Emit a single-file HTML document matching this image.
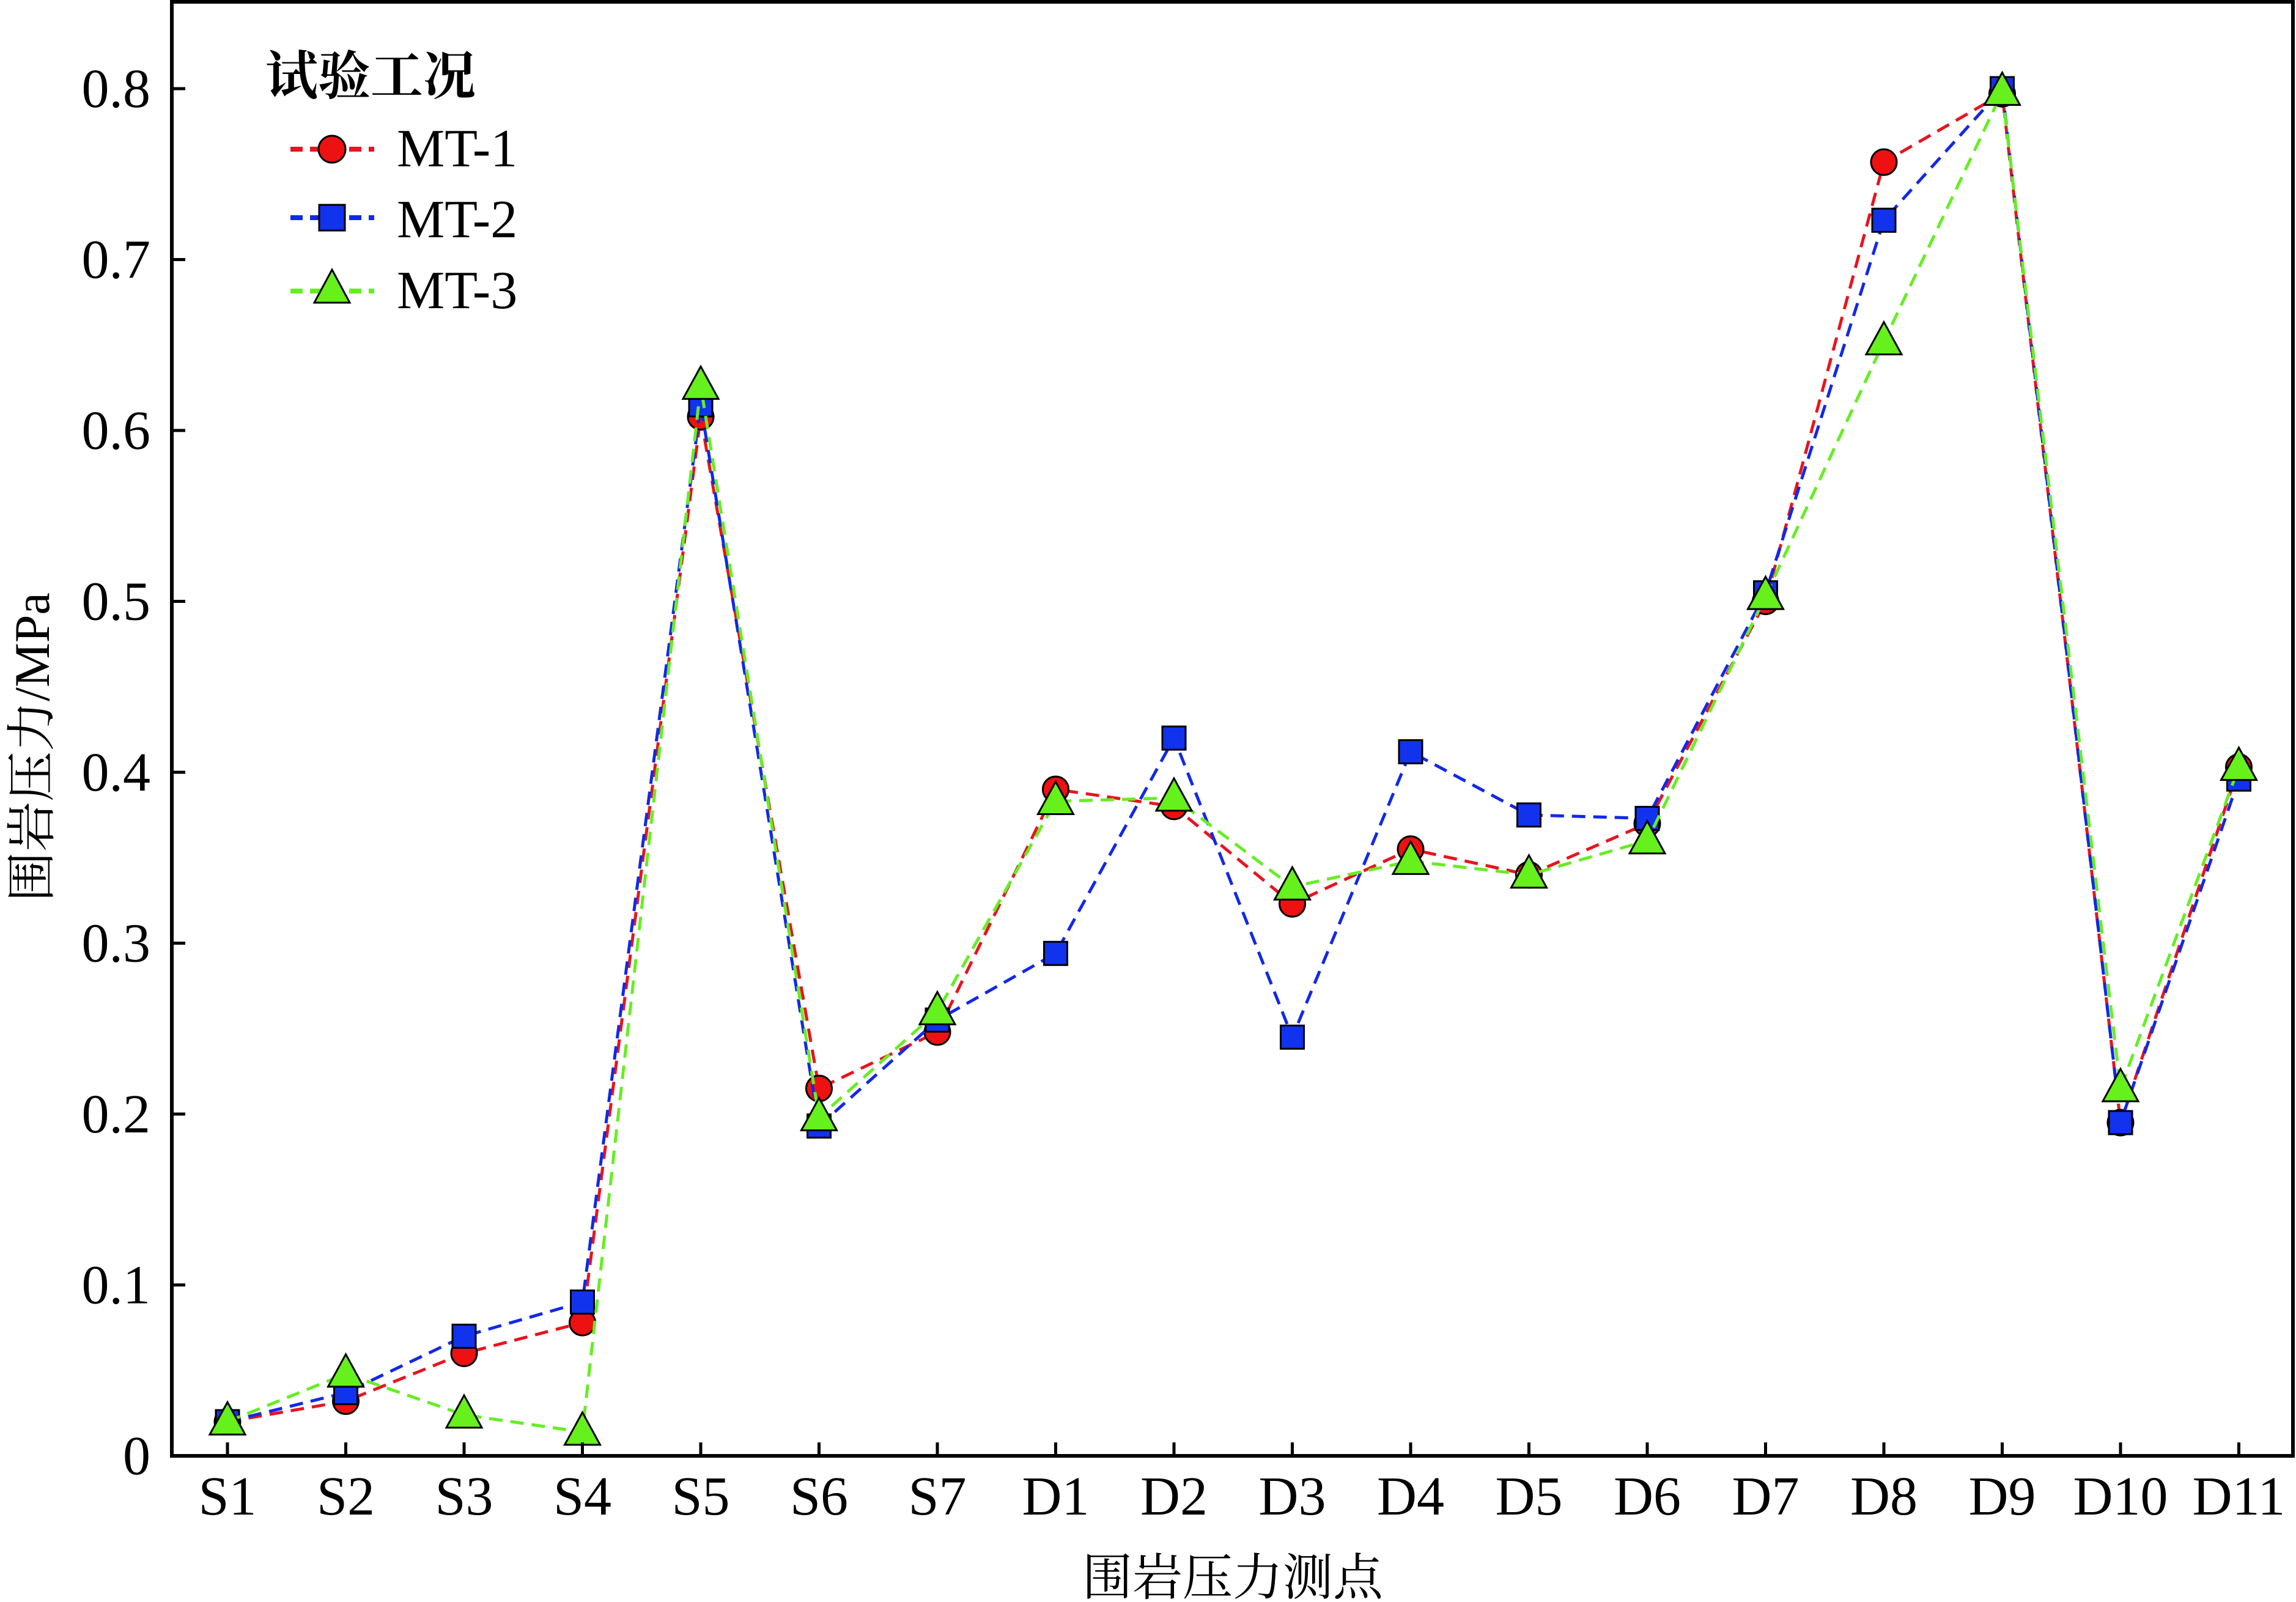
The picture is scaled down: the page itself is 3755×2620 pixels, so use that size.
<!DOCTYPE html>
<html><head><meta charset="utf-8"><style>
html,body{margin:0;padding:0;background:#fff;}
svg{display:block;font-family:"Liberation Serif","Noto Serif CJK SC",serif;}
</style></head><body>
<svg id="chart" width="3755" height="2620" viewBox="0 0 3755 2620" xmlns="http://www.w3.org/2000/svg">
<g id="series-layer"></g>
<g id="axes-layer"></g>
<text x="2016" y="2608" font-size="82" text-anchor="middle" font-family="'Liberation Serif','Noto Serif CJK SC',serif">围岩压力测点</text>
<text x="0" y="0" font-size="82" text-anchor="middle" transform="translate(80,1222) rotate(-90)">围岩压力/MPa</text>
<g>
<text x="434" y="154" font-size="86" font-weight="bold">试验工况</text>
<g>
<line x1="475" y1="244" x2="612" y2="244" stroke="#e8141e" stroke-width="8" stroke-dasharray="20,12"/>
<circle cx="543" cy="244" r="22" fill="#ee1111" stroke="#000" stroke-width="3"/>
<text x="649" y="272" font-size="88">MT-1</text></g>
<g>
<line x1="475" y1="356" x2="612" y2="356" stroke="#1228e8" stroke-width="8" stroke-dasharray="20,12"/>
<rect x="522" y="335" width="42" height="42" fill="#1133ee" stroke="#000" stroke-width="3"/>
<text x="649" y="388" font-size="88">MT-2</text></g>
<g>
<line x1="475" y1="476" x2="612" y2="476" stroke="#66ee22" stroke-width="8" stroke-dasharray="20,12"/>
<polygon points="543,441 572,495 514,495" fill="#66f01c" stroke="#000" stroke-width="3"/>
<text x="649" y="504" font-size="88">MT-3</text></g>
</g>
</svg>
<script>
const categories = ["S1","S2","S3","S4","S5","S6","S7","D1","D2","D3","D4","D5","D6","D7","D8","D9","D10","D11"];
const mt1 = [0.020,0.032,0.060,0.078,0.608,0.215,0.248,0.390,0.380,0.323,0.355,0.340,0.370,0.500,0.757,0.797,0.195,0.403];
const mt2 = [0.020,0.037,0.070,0.090,0.615,0.193,0.255,0.294,0.420,0.245,0.412,0.375,0.373,0.505,0.723,0.800,0.195,0.396];
const mt3 = [0.020,0.048,0.024,0.014,0.626,0.198,0.260,0.383,0.385,0.333,0.348,0.340,0.360,0.503,0.652,0.798,0.215,0.403];
const yTicks = [0,0.1,0.2,0.3,0.4,0.5,0.6,0.7,0.8];
const yTickLabels = ["0","0.1","0.2","0.3","0.4","0.5","0.6","0.7","0.8"];

const NS = "http://www.w3.org/2000/svg";
const L = 281, R = 3750, T = 3, B = 2381;
const x0 = 372, dx = 193.5;
const yScale = v => B - v * 2795;
const xScale = i => x0 + i * dx;
function mk(tag, attrs, parent){const e=document.createElementNS(NS,tag);for(const k in attrs)e.setAttribute(k,attrs[k]);parent.appendChild(e);return e;}

const axes = document.getElementById('axes-layer');
const frame = mk('rect',{x:L,y:T,width:R-L,height:B-T,fill:'none',stroke:'#000','stroke-width':6},axes);


yTicks.forEach((v,i)=>{
  const y=yScale(v);
  const t=mk('line',{x1:L,y1:y,x2:L+22,y2:y,stroke:'#000','stroke-width':5},axes);
  
  
  const lb=mk('text',{x:246,y:y+30,'font-size':90,'text-anchor':'end'},axes);
  lb.textContent=yTickLabels[i];
  
  
});
categories.forEach((c,i)=>{
  const x=xScale(i);
  const t=mk('line',{x1:x,y1:B,x2:x,y2:B-22,stroke:'#000','stroke-width':5},axes);
  
  
  const lb=mk('text',{x:x,y:2477,'font-size':90,'text-anchor':'middle'},axes);
  lb.textContent=c;
  
  
});

const layer = document.getElementById('series-layer');
function drawSeries(vals, color, fill, shape, name){
  const g = mk('g',{},layer);
  
  
  const pts = vals.map((v,i)=>xScale(i)+','+yScale(v)).join(' ');
  const pl = mk('polyline',{points:pts,fill:'none',stroke:color,'stroke-width':5,'stroke-dasharray':'22,13'},g);
  
  
  vals.forEach((v,i)=>{
    const x=xScale(i), y=yScale(v);
    let m;
    if(shape==='circle') m=mk('circle',{cx:x,cy:y,r:21,fill:fill,stroke:'#000','stroke-width':3},g);
    else if(shape==='square') m=mk('rect',{x:x-19,y:y-19,width:38,height:38,fill:fill,stroke:'#000','stroke-width':3},g);
    else m=mk('polygon',{points:`${x},${y-32} ${x+29},${y+21} ${x-29},${y+21}`,fill:fill,stroke:'#000','stroke-width':3},g);
    
    
  });
}
drawSeries(mt1,'#e8141e','#ee1111','circle','mt1');
drawSeries(mt2,'#1228e8','#1133ee','square','mt2');
drawSeries(mt3,'#66ee22','#66f01c','triangle','mt3');
</script>
</body></html>
